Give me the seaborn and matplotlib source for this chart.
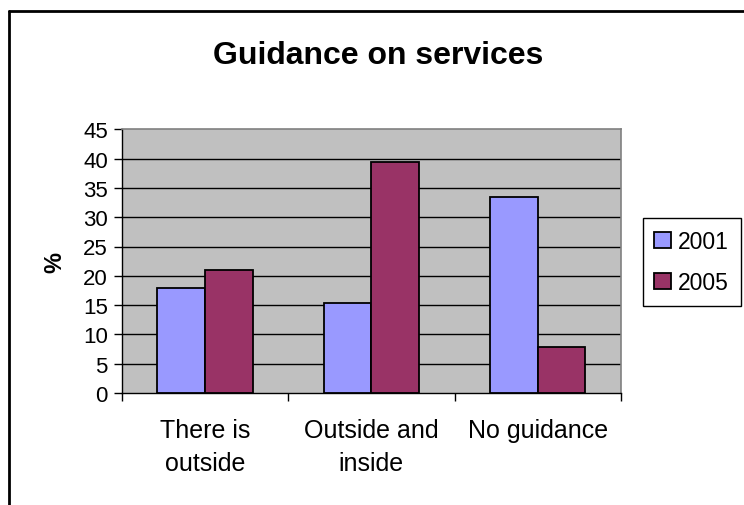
import matplotlib
matplotlib.use("Agg")
import matplotlib.pyplot as plt
import seaborn as sns
import pandas as pd
from matplotlib.lines import Line2D

categories = ["There is\noutside", "Outside and\ninside", "No guidance"]
years = ["2001", "2005"]
values_2001 = [18.0, 15.3, 33.4]
values_2005 = [21.0, 39.5, 7.8]
yticks = [0, 5, 10, 15, 20, 25, 30, 35, 40, 45]

df = pd.DataFrame({
    "category": categories * 2,
    "year": [years[0]] * 3 + [years[1]] * 3,
    "value": values_2001 + values_2005,
})

sns.set_theme(style="white")
plt.rcParams["font.family"] = ["Liberation Sans", "DejaVu Sans"]
plt.rcParams.update({"text.color": "black", "axes.labelcolor": "black",
                     "xtick.color": "black", "ytick.color": "black"})

W, H = 744, 506
fig = plt.figure(figsize=(W / 100, H / 100), dpi=100)
ax = fig.add_axes([121.7 / W, 1 - 394 / H, (621 - 121.7) / W, (394 - 130.3) / H])
ax.set_facecolor("#C0C0C0")

sns.barplot(data=df, x="category", y="value", hue="year", order=categories,
            hue_order=years, palette=["#9999FF", "#993366"], width=0.573,
            edgecolor="black", linewidth=1.3, ax=ax, zorder=3, saturation=1)

ax.set_ylim(0, 45)
ax.set_xlim(-0.5, 2.5)
ax.set_yticks(yticks)
ax.set_yticklabels([str(t) for t in yticks], fontsize=16)
for y in yticks[1:-1]:
    ax.axhline(y, color="black", lw=1.0, zorder=1)

ax.set_xticks([-0.5, 0.5, 1.5, 2.5])
ax.set_xticklabels([])
ax.set_xticks([0, 1, 2], minor=True)
ax.set_xticklabels(categories, minor=True, fontsize=18, linespacing=1.5)
ax.tick_params(axis="x", which="minor", length=0, pad=18)
ax.tick_params(axis="x", which="major", length=6, width=1, color="black", direction="out", bottom=True)
ax.tick_params(axis="y", length=6, width=1, color="black", direction="out", left=True, pad=4)

ax.set_xlabel("")
ax.set_ylabel("%", fontsize=17, fontweight="bold", labelpad=12)

for side in ["top", "right"]:
    ax.spines[side].set_color("#808080")
    ax.spines[side].set_linewidth(1.2)
for side in ["left", "bottom"]:
    ax.spines[side].set_color("black")
    ax.spines[side].set_linewidth(1.0)

fig.suptitle("Guidance on services", x=378 / W, y=1 - 41 / H, fontsize=23,
             fontweight="bold", va="top")

handles, labels = ax.get_legend_handles_labels()
ax.legend(handles, labels, loc="center left", bbox_to_anchor=(643 / W, 1 - 263 / H),
          bbox_transform=fig.transFigure, fontsize=16.5, frameon=True, fancybox=False,
          edgecolor="black", framealpha=1, handlelength=0.74, handleheight=0.74,
          handletextpad=0.3, borderpad=0.5, labelspacing=0.8, borderaxespad=0)
ax.get_legend().get_frame().set_linewidth(1.0)

fig.add_artist(Line2D([9 / W, 9 / W], [0, 1 - 12 / H], transform=fig.transFigure,
                      color="black", lw=2))
fig.add_artist(Line2D([9 / W, 1], [1 - 12 / H, 1 - 12 / H], transform=fig.transFigure,
                      color="black", lw=2))

fig.savefig("out.png", dpi=100)
